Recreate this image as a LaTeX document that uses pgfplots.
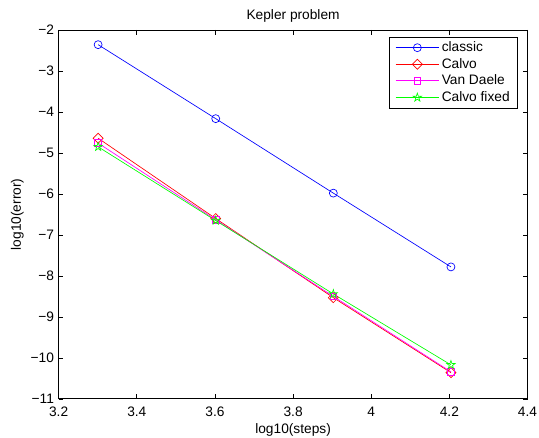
\documentclass[border=0pt]{standalone}
\usepackage{fontspec}
\setmainfont{Liberation Sans}
\usepackage{pgfplots}
\pgfplotsset{compat=1.18}
\definecolor{mblue}{rgb}{0,0,1}
\definecolor{mred}{rgb}{1,0,0}
\definecolor{mmag}{rgb}{1,0,1}
\definecolor{mgreen}{rgb}{0,1,0}
\pgfdeclareplotmark{pentagram}{%
  \pgfpathmoveto{\pgfpointpolar{90}{\pgfplotmarksize}}%
  \pgfpathlineto{\pgfpointpolar{126}{0.382\pgfplotmarksize}}%
  \pgfpathlineto{\pgfpointpolar{162}{\pgfplotmarksize}}%
  \pgfpathlineto{\pgfpointpolar{198}{0.382\pgfplotmarksize}}%
  \pgfpathlineto{\pgfpointpolar{234}{\pgfplotmarksize}}%
  \pgfpathlineto{\pgfpointpolar{270}{0.382\pgfplotmarksize}}%
  \pgfpathlineto{\pgfpointpolar{306}{\pgfplotmarksize}}%
  \pgfpathlineto{\pgfpointpolar{342}{0.382\pgfplotmarksize}}%
  \pgfpathlineto{\pgfpointpolar{18}{\pgfplotmarksize}}%
  \pgfpathlineto{\pgfpointpolar{54}{0.382\pgfplotmarksize}}%
  \pgfpathclose
  \pgfusepathqstroke
}
\begin{document}
\begin{tikzpicture}
\begin{axis}[
  scale only axis,
  width=351.75pt, height=276.75pt,
  xmin=3.2, xmax=4.4, ymin=-11, ymax=-2,
  xtick={3.2,3.4,3.6,3.8,4.0,4.2,4.4},
  ytick={-11,-10,-9,-8,-7,-6,-5,-4,-3,-2},
  xticklabels={3.2,3.4,3.6,3.8,4,4.2,4.4},
  yticklabels={−11,−10,−9,−8,−7,−6,−5,−4,−3,−2},
  tick align=inside,
  major tick length=3.5pt,
  tick style={black, line width=0.5pt},
  axis line style={black, line width=0.6pt},
  ticklabel style={font=\fontsize{10.3}{11}\selectfont},
  xticklabel style={anchor=center, yshift=-9.75pt},
  label style={font=\fontsize{10.3}{11}\selectfont},
  xlabel={log10(steps)},
  ylabel={log10(error)},
  xlabel style={at={(axis description cs:0.5,0)}, anchor=center, yshift=-23pt},
  ylabel style={at={(axis description cs:0,0.5)}, anchor=center, yshift=31pt},
  legend style={at={(1,1)}, anchor=north east, xshift=-7.6pt, yshift=-5pt,
    font=\fontsize{10.3}{11}\selectfont,
    row sep=0.3pt, inner xsep=4pt, inner ysep=2pt,
    nodes={inner sep=1.6pt}},
  legend cell align=left,
  legend image code/.code={\draw[#1, line width=0.7pt] (0cm,0cm) -- (1.15cm,0cm); \path[#1] plot coordinates {(0.575cm,0cm)};},
]
\addplot[mblue, line width=0.5pt, mark=o, mark size=3pt, mark options={solid}] coordinates {
(3.301,-2.358) (3.602,-4.163) (3.903,-5.98) (4.204,-7.78)};
\addlegendentry{classic}
\addplot[mred, line width=0.5pt, mark=square, mark size=2.65pt, mark options={rotate=45}] coordinates {
(3.301,-4.64) (3.602,-6.60) (3.903,-8.53) (4.204,-10.36)};
\addlegendentry{Calvo}
\addplot[mmag, line width=0.5pt, mark=square, mark size=2.5pt] coordinates {
(3.301,-4.76) (3.602,-6.63) (3.903,-8.50) (4.204,-10.34)};
\addlegendentry{Van Daele}
\addplot[mgreen, line width=0.5pt, mark=pentagram, mark size=3.3pt] coordinates {
(3.301,-4.85) (3.602,-6.65) (3.903,-8.44) (4.204,-10.17)};
\addlegendentry{Calvo fixed}
\end{axis}
\node[font=\fontsize{10.3}{11}\selectfont, anchor=center] at ([yshift=10.5pt]current axis.north) {Kepler problem};
\path (current axis.south west) ++(-44pt,-29.25pt) coordinate (bbsw);
\path (current axis.north east) ++(8.6pt,22.5pt) coordinate (bbne);
\pgfresetboundingbox
\path[use as bounding box] (bbsw) rectangle (bbne);
\end{tikzpicture}
\end{document}
